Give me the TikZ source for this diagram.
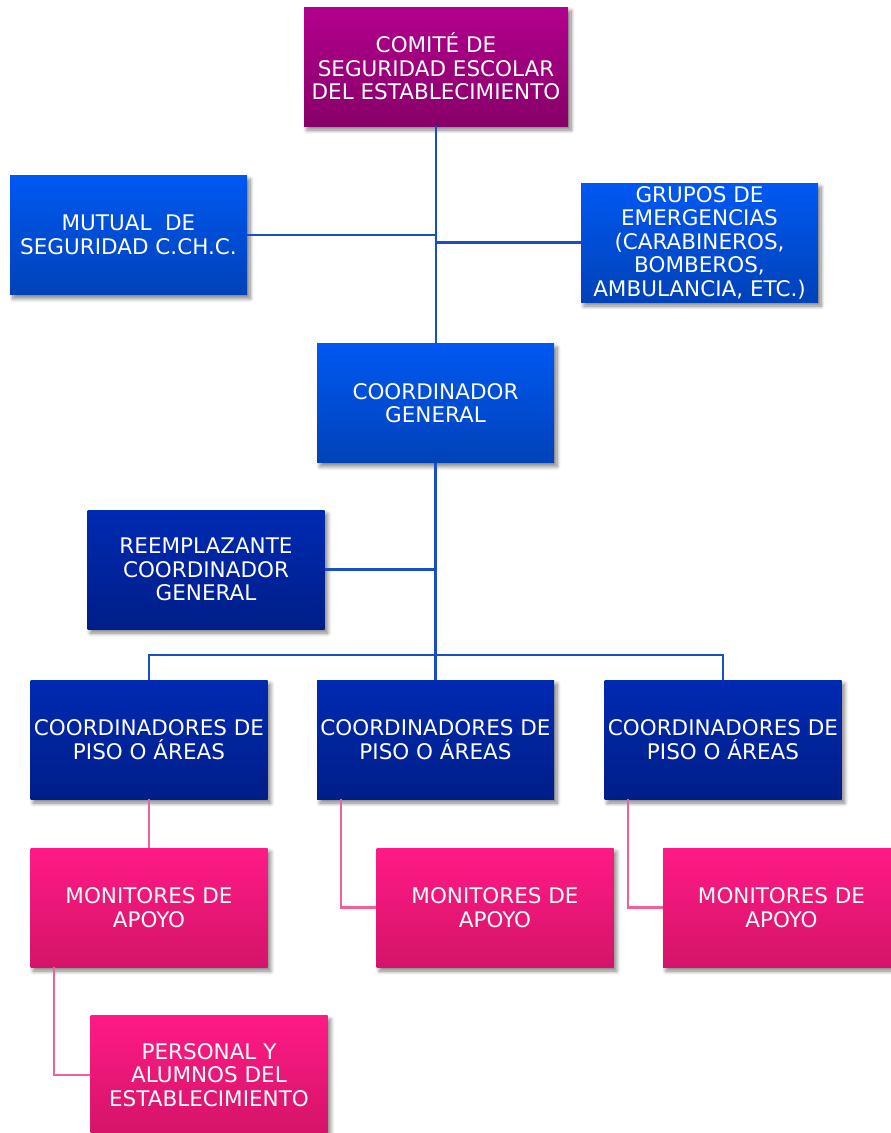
\documentclass[tikz,border=0pt]{standalone}
\usepackage{fontspec}
\setmainfont{DejaVu Sans}
\usetikzlibrary{shadows.blur}
\definecolor{magtop}{HTML}{B2008E}
\definecolor{magbot}{HTML}{870068}
\definecolor{lbtop}{HTML}{0058F2}
\definecolor{lbbot}{HTML}{0042B8}
\definecolor{dbtop}{HTML}{002AB2}
\definecolor{dbbot}{HTML}{001E88}
\definecolor{pktop}{HTML}{FF1A86}
\definecolor{pkbot}{HTML}{D41468}
\definecolor{lineblue}{HTML}{1A4FC4}
\definecolor{linepink}{HTML}{F2609C}
\tikzset{
  orgbox/.style={rectangle, minimum width=237pt, minimum height=119pt, inner sep=2pt,
    align=center, text=white, font=\fontsize{21.5}{23.5}\selectfont,
    blur shadow={shadow xshift=3pt, shadow yshift=-4pt, shadow blur steps=8, shadow opacity=50, shadow blur radius=4pt}},
  magbox/.style={orgbox, top color=magtop, bottom color=magbot},
  lbbox/.style={orgbox, top color=lbtop, bottom color=lbbot},
  dbbox/.style={orgbox, top color=dbtop, bottom color=dbbot},
  pkbox/.style={orgbox, top color=pktop, bottom color=pkbot},
  bline/.style={draw=lineblue, line width=2.2pt},
  pline/.style={draw=linepink, line width=2.2pt},
}
\begin{document}
\begin{tikzpicture}[x=1pt,y=1pt]
\useasboundingbox (0,0) rectangle (891,-1133);
\clip (0,0) rectangle (891,-1133);
\node[magbox, minimum width=264pt] (comite) at (436,-66.5) {COMITÉ DE\\SEGURIDAD ESCOLAR\\DEL ESTABLECIMIENTO};
\node[lbbox] (mutual) at (128.5,-235) {MUTUAL\ \ DE\\SEGURIDAD C.CH.C.};
\node[lbbox] (grupos) at (699.5,-242.5) {GRUPOS DE\\EMERGENCIAS\\(CARABINEROS,\\BOMBEROS,\\AMBULANCIA, ETC.)};
\node[lbbox] (cg) at (435.5,-403) {COORDINADOR\\GENERAL};
\node[dbbox] (reem) at (206,-569.5) {REEMPLAZANTE\\COORDINADOR\\GENERAL};
\node[dbbox] (p1) at (149,-739.5) {COORDINADORES DE\\PISO O ÁREAS};
\node[dbbox] (p2) at (435.5,-739.5) {COORDINADORES DE\\PISO O ÁREAS};
\node[dbbox] (p3) at (723,-739.5) {COORDINADORES DE\\PISO O ÁREAS};
\node[pkbox] (m1) at (149,-907.5) {MONITORES DE\\APOYO};
\node[pkbox] (m2) at (495,-907.5) {MONITORES DE\\APOYO};
\node[pkbox] (m3) at (781.5,-907.5) {MONITORES DE\\APOYO};
\node[pkbox] (pers) at (209,-1075) {PERSONAL Y\\ALUMNOS DEL\\ESTABLECIMIENTO};
\coordinate (hb) at (436,-655);
\draw[bline] (comite.south) -- (comite.south |- cg.north);
\draw[bline] (mutual.east) -- (mutual.east -| comite.south);
\draw[bline] (grupos.west) -- (grupos.west -| comite.south);
\draw[bline] (cg.south) -- (cg.south |- p2.north);
\draw[bline] (reem.east) -- (reem.east -| cg.south);
\draw[bline] (p1.north) -- (p1.north |- hb) -- (p3.north |- hb) -- (p3.north);
\draw[pline] (p1.south) -- (m1.north);
\draw[pline] ([xshift=24pt]p2.south west) |- (m2.west);
\draw[pline] ([xshift=24pt]p3.south west) |- (m3.west);
\draw[pline] ([xshift=24pt]m1.south west) |- (pers.west);
\end{tikzpicture}
\end{document}
